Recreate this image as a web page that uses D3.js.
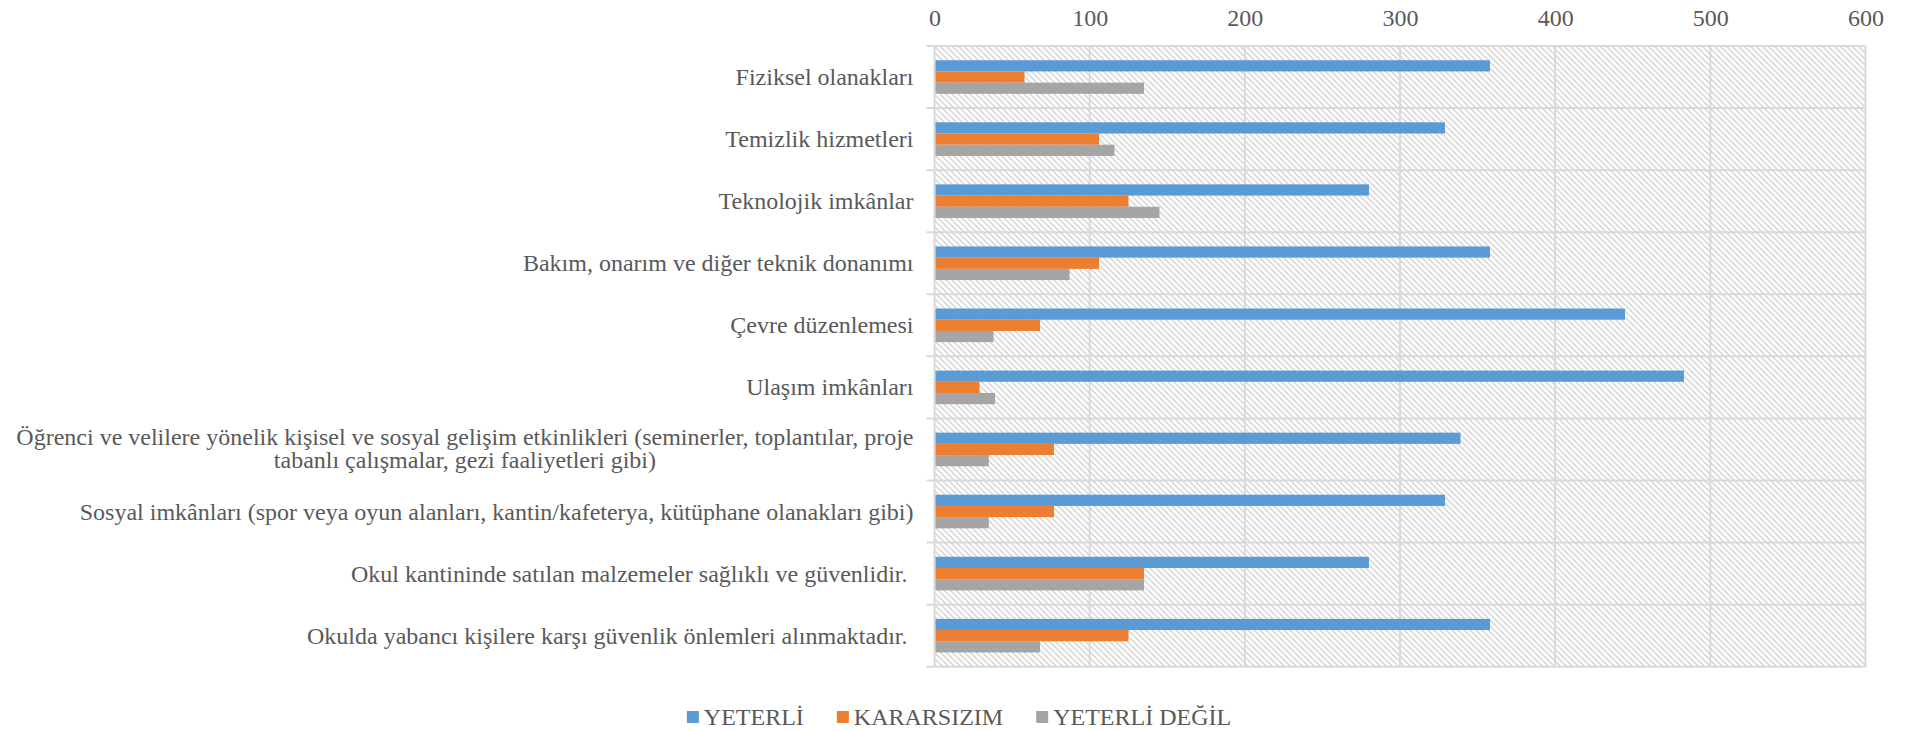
<!DOCTYPE html>
<html>
<head>
<meta charset="utf-8">
<script src="https://cdn.jsdelivr.net/npm/d3@7"></script>
</head>
<body style="margin:0;background:#fff">
<div id="chart"></div>
<script>
const WIDTH = 1912
const HEIGHT = 731

const categories = [
  'Fiziksel olanakları',
  'Temizlik hizmetleri',
  'Teknolojik imkânlar',
  'Bakım, onarım ve diğer teknik donanımı',
  'Çevre düzenlemesi',
  'Ulaşım imkânları',
  'Öğrenci ve velilere yönelik kişisel ve sosyal gelişim etkinlikleri (seminerler, toplantılar, proje|tabanlı çalışmalar, gezi faaliyetleri gibi)',
  'Sosyal imkânları (spor veya oyun alanları, kantin/kafeterya, kütüphane olanakları gibi)',
  'Okul kantininde satılan malzemeler sağlıklı ve güvenlidir. ',
  'Okulda yabancı kişilere karşı güvenlik önlemleri alınmaktadır. '
]
const seriesNames = ['YETERLİ', 'KARARSIZIM', 'YETERLİ DEĞİL']
const yeterli = [358, 329, 280, 358, 445, 483, 339, 329, 280, 358]
const kararsizim = [58, 106, 125, 106, 68, 29, 77, 77, 135, 125]
const yeterliDegil = [135, 116, 145, 87, 38, 39, 35, 35, 135, 68]
const xTicks = [0, 100, 200, 300, 400, 500, 600]

const COLORS = ['#5b9bd5', '#ed7d31', '#a5a5a5']
const GRID = '#d9d9d9'
const FONT = '"Liberation Serif"'
const TEXT = '#595959'

const values = [yeterli, kararsizim, yeterliDegil]
const rows = categories.map((c, i) => ({ cat: c, vals: values.map(v => v[i]) }))

const plot = { left: 934.5, right: 1865.5, top: 46, bottom: 666.7 }

const svg = d3.select('#chart').append('svg')
  .attr('width', WIDTH)
  .attr('height', HEIGHT)
  .style('font-family', FONT)

// hatch pattern for the plot background
const s = 6
svg.append('defs').append('pattern')
  .attr('id', 'hatch')
  .attr('patternUnits', 'userSpaceOnUse')
  .attr('width', s).attr('height', s)
  .append('path')
  .attr('d', `M0,0 L${s},${s} M${-1},${s - 1} L1,${s + 1} M${s - 1},-1 L${s + 1},1`)
  .attr('stroke', GRID)
  .attr('stroke-width', 1.6)

const x = d3.scaleLinear().domain([0, 600]).range([plot.left, plot.right])
const y = d3.scaleBand().domain(categories).range([plot.top, plot.bottom]).padding(0)
const sub = d3.scaleBand().domain(seriesNames).range([0, y.bandwidth()]).paddingOuter(1.27).paddingInner(0)

svg.append('rect')
  .attr('x', plot.left).attr('y', plot.top)
  .attr('width', plot.right - plot.left).attr('height', plot.bottom - plot.top)
  .attr('fill', 'url(#hatch)')

// vertical grid lines
svg.append('g').selectAll('line')
  .data(xTicks)
  .join('line')
  .attr('x1', d => x(d)).attr('x2', d => x(d))
  .attr('y1', plot.top).attr('y2', plot.bottom)
  .attr('stroke', GRID).attr('stroke-width', 2)

// horizontal lines at category boundaries, with small ticks to the left
const bounds = categories.map(c => y(c)).concat([plot.bottom])
svg.append('g').selectAll('line')
  .data(bounds)
  .join('line')
  .attr('x1', plot.left - 8).attr('x2', plot.right)
  .attr('y1', d => d).attr('y2', d => d)
  .attr('stroke', GRID).attr('stroke-width', 2)

// x axis on top
svg.append('g')
  .attr('transform', `translate(0,${plot.top})`)
  .call(d3.axisTop(x).tickValues(xTicks).tickSize(0).tickPadding(20))
  .call(g => g.select('.domain').remove())
  .call(g => g.attr('font-family', null))
  .selectAll('text')
  .attr('font-size', 24)
  .style('font-family', FONT)
  .attr('fill', TEXT)

// category labels
const labels = svg.append('g').selectAll('text')
  .data(categories)
  .join('text')
  .attr('font-size', 24)
  .style('font-family', FONT)
  .style('white-space', 'pre')
  .attr('fill', TEXT)
  .attr('y', d => y(d) + y.bandwidth() / 2)

labels.each(function (d) {
  const t = d3.select(this)
  const lines = d.split('|')
  if (lines.length === 1) {
    t.attr('x', plot.left - 21).attr('text-anchor', 'end').attr('dy', 8).text(d)
  } else {
    // widest line sets the block's right edge, lines centred in the block
    t.attr('text-anchor', 'middle')
    const spans = t.selectAll('tspan').data(lines).join('tspan').text(l => l)
    const w = d3.max(spans.nodes(), n => n.getComputedTextLength())
    const cx = plot.left - 21 - w / 2
    spans.attr('x', cx).attr('dy', (l, i) => i === 0 ? -4 : 23)
  }
})

// bars
const groups = svg.append('g').selectAll('g')
  .data(rows)
  .join('g')
  .attr('transform', d => `translate(0,${y(d.cat)})`)

groups.selectAll('rect')
  .data(d => d.vals.map((v, i) => ({ key: seriesNames[i], value: v, i })))
  .join('rect')
  .attr('x', x(0) + 1)
  .attr('y', d => sub(d.key))
  .attr('width', d => x(d.value) - x(0) - 1)
  .attr('height', sub.bandwidth())
  .attr('fill', d => COLORS[d.i])

// legend, centred under the chart
const legend = svg.append('g').attr('transform', 'translate(0,725)')
const items = legend.selectAll('g')
  .data(seriesNames)
  .join('g')
items.append('rect')
  .attr('y', -14).attr('width', 12).attr('height', 12)
  .attr('fill', (d, i) => COLORS[i])
items.append('text')
  .attr('x', 17)
  .attr('font-size', 24)
  .style('font-family', FONT)
  .attr('fill', TEXT)
  .text(d => d)

let offset = 0
const widths = items.nodes().map(n => 17 + d3.select(n).select('text').node().getComputedTextLength())
const total = d3.sum(widths) + 33 * (widths.length - 1)
const start = 959 - total / 2
items.attr('transform', (d, i) => {
  const pos = start + offset
  offset += widths[i] + 33
  return `translate(${pos},0)`
})
</script>
</body>
</html>
